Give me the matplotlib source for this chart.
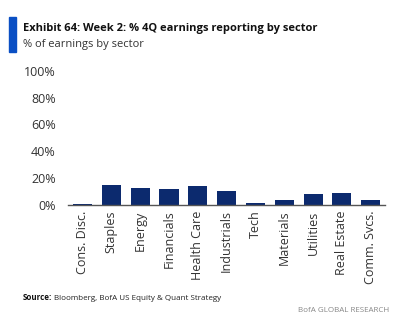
import matplotlib.pyplot as plt

sectors = ['Cons. Disc.', 'Staples', 'Energy', 'Financials', 'Health Care',
           'Industrials', 'Tech', 'Materials', 'Utilities', 'Real Estate',
           'Comm. Svcs.']
pct_reported = [1.0, 14.9, 12.4, 11.9, 14.4, 10.2, 1.2, 3.7, 8.2, 9.0, 3.5]
y_ticks = [0, 20, 40, 60, 80, 100]

plt.rcParams['font.family'] = ['Open Sans', 'DejaVu Sans']

fig = plt.figure(figsize=(4.08, 3.32), dpi=100)
ax = fig.add_axes([0.167, 0.383, 0.777, 0.404])

ax.bar(range(len(sectors)), pct_reported, width=0.66, color='#0c2a6e')
ax.set_xlim(-0.5, len(sectors) - 0.5)
ax.set_ylim(0, 100)
ax.set_yticks(y_ticks)
ax.set_yticklabels([f'{t}%' for t in y_ticks], fontsize=9, color='#333333')
ax.set_xticks(range(len(sectors)))
ax.set_xticklabels(sectors, rotation=90, fontsize=9, color='#333333')
ax.tick_params(axis='x', length=0, pad=4)
ax.tick_params(axis='y', length=0, pad=9)
for s in ['top', 'right', 'left']:
    ax.spines[s].set_visible(False)
ax.spines['bottom'].set_color('#555555')
ax.spines['bottom'].set_linewidth(1.0)

# header
fig.patches.append(plt.Rectangle((9 / 408, 1 - 52 / 332), 7 / 408, 35 / 332,
                                 transform=fig.transFigure, color='#0a4fc4'))
fig.text(23 / 408, 1 - 28 / 332, 'Exhibit 64: Week 2: % 4Q earnings reporting by sector',
         fontsize=8.0, fontweight='bold', va='center', color='#111111')
fig.text(23 / 408, 1 - 44 / 332, '% of earnings by sector',
         fontsize=8.0, va='center', color='#333333')

# footer
src = fig.text(23 / 408, 1 - 298 / 332, 'Source:', fontsize=5.8,
               fontweight='bold', va='center', color='#111111')
fig.canvas.draw()
bb = src.get_window_extent()
fig.text((bb.x1 + 2) / 408, 1 - 298 / 332, 'Bloomberg, BofA US Equity & Quant Strategy',
         fontsize=5.8, va='center', color='#222222')
fig.text(389 / 408, 1 - 310 / 332, 'BofA GLOBAL RESEARCH',
         fontsize=5.8, va='center', ha='right', color='#888888')

fig.savefig('out.png', dpi=100)
